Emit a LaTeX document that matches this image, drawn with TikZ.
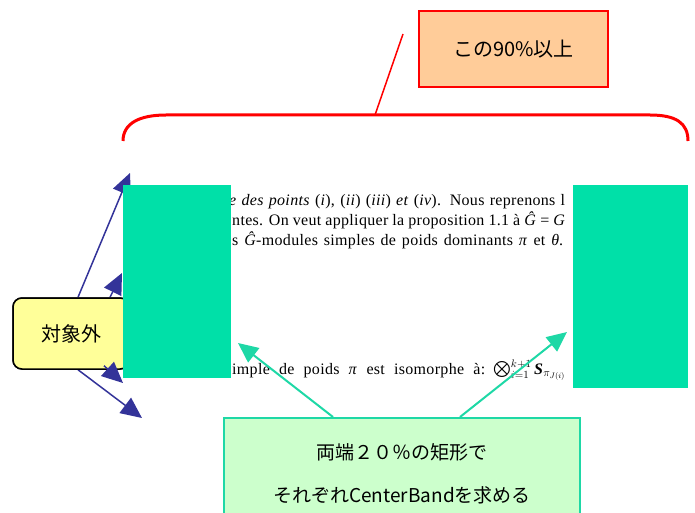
\documentclass[tikz,border=0pt]{standalone}
\usepackage{fontspec}
\setmainfont{Liberation Serif}
\newfontfamily\docfont[LetterSpace=2]{Liberation Serif}
\newfontfamily\jp{Noto Sans CJK JP}
\usetikzlibrary{arrows.meta}
\definecolor{band}{HTML}{00E0A8}
\definecolor{cyanarr}{HTML}{1ED8A6}
\definecolor{navy}{HTML}{333399}
\definecolor{yel}{HTML}{FFFF99}
\definecolor{lgreen}{HTML}{CCFFCC}
\definecolor{peach}{HTML}{FFCC99}
\begin{document}
\begin{tikzpicture}[x=1pt,y=-1pt,
  doc/.style={anchor=base west, inner sep=0pt, font=\docfont\fontsize{16}{20}\selectfont},
  bandrect/.style={fill=band, draw=none, inner sep=0pt},
  bluearr/.style={draw=navy, line width=1.5pt, -{Triangle[length=21pt,width=19pt]}},
  cyanarrow/.style={draw=cyanarr, line width=2pt, -{Triangle[length=20pt,width=18pt]}},
  outbox/.style={draw=black, line width=1.5pt, fill=yel, rounded corners=9pt,
    minimum width=116pt, minimum height=71pt, inner sep=0pt, font=\jp\fontsize{20}{20}\selectfont},
  notebox/.style={draw=cyanarr, line width=2pt, fill=lgreen, minimum width=356pt,
    minimum height=112pt, inner sep=0pt, align=center, font=\jp\fontsize{19}{43}\selectfont},
  topbox/.style={draw=red, line width=1.5pt, fill=peach, minimum width=189pt,
    minimum height=76pt, inner sep=0pt, font=\jp\fontsize{20}{20}\selectfont},
  bracestyle/.style={draw=red, line width=3pt},
  leader/.style={draw=red, line width=1.5pt}
]
\useasboundingbox (0,0) rectangle (695,513);

% document text
\node[doc] (l1) at (229,205) {\makebox[336pt][s]{\textit{e des points} (\textit{i}), (\textit{ii}) (\textit{iii}) \textit{et} (\textit{iv}). Nous reprenons l}};
\node[doc] (l2) at (232,225.5) {\makebox[333pt][s]{ntes. On veut appliquer la proposition 1.1 à \textit{Ĝ} = \textit{G}}};
\node[doc] (l3) at (232,245.5) {\makebox[331pt][s]{s \textit{Ĝ}-modules simples de poids dominants \textit{π} et \textit{θ}.}};
\node[doc] (l4) at (232,374) {\makebox[253pt][s]{imple de poids \textit{π} est isomorphe à:}\hspace{8pt}\raisebox{-2pt}{\scalebox{1.6}{$\bigotimes$}}$_{i=1}^{k+1}$\,\textbf{\textit{S}}$_{\pi_{J(i)}}$};

% yellow box and blue arrows
\coordinate (t1) at (130,173);
\coordinate (t2) at (122,273);
\coordinate (t3) at (123,383);
\coordinate (t4) at (142,418);
\node[outbox] (out) at (71,333.5) {対象外};
\coordinate (s1) at ([xshift=7pt]out.north);
\coordinate (s2) at ([xshift=39pt]out.north);
\coordinate (s3) at ([xshift=33pt,yshift=4pt]out.south);
\coordinate (s4) at ([xshift=7pt]out.south);
\draw[bluearr] (s1) -- (t1);
\draw[bluearr] (s2) -- (t2);
\draw[bluearr] (s4) -- (t4);
\node[outbox] (out2) at (out) {対象外};
\draw[bluearr] (s3) -- (t3);

% green bands
\node[bandrect, minimum width=108pt, minimum height=193pt] (bandL) at (177,281.5) {};
\node[bandrect, minimum width=115pt, minimum height=203pt] (bandR) at (630.5,286.5) {};

% bottom note and cyan arrows
\node[notebox] (note) at (402,474) {両端２０％の矩形で\\それぞれCenterBandを求める};
\coordinate (c1) at (238,343);
\coordinate (c2) at (567,332);
\draw[cyanarrow] ([xshift=-69pt]note.north) -- (c1);
\draw[cyanarrow] ([xshift=58pt]note.north) -- (c2);

% top label and brace
\node[topbox] (top) at (513.5,49) {この90\%以上};
\coordinate (r1) at (403,34);
\coordinate (r2) at (375,115);
\draw[leader] (r1) -- (r2);
\draw[bracestyle] (123,141) .. controls (123,123) and (140,115) .. (166,115) -- (650,115) .. controls (676,115) and (688,123) .. (688,141);
\end{tikzpicture}
\end{document}
